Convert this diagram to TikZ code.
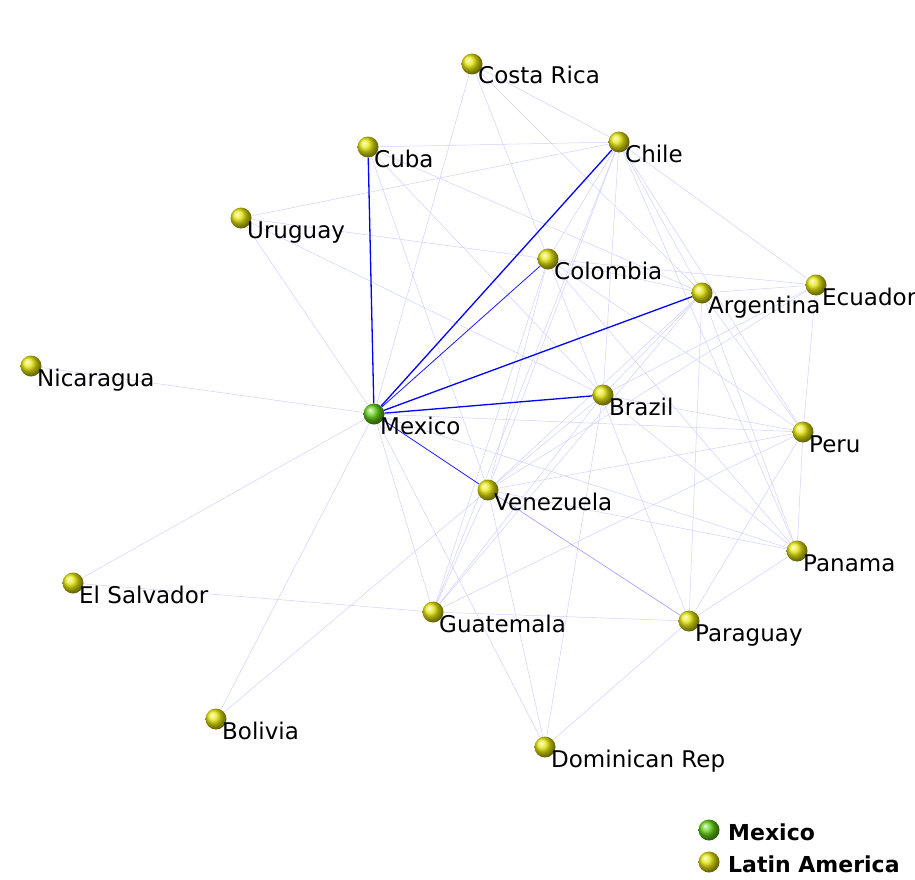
\documentclass[tikz,border=0pt]{standalone}
\usepackage{fontspec}
\setmainfont{DejaVu Sans}
\usetikzlibrary{backgrounds}

\definecolor{limeball}{RGB}{100,210,20}
\definecolor{oliveball}{RGB}{230,230,10}

\tikzset{
  country/.style={circle,inner sep=0pt,minimum size=21pt,shading=ball,ball color=oliveball},
  home/.style={country,ball color=limeball},
  tag/.style={anchor=base west,inner sep=0pt,font=\fontsize{23}{23}\selectfont},
  keytag/.style={tag,font=\fontsize{22}{22}\selectfont\bfseries},
  tie/.style={draw=blue!18,line width=0.5pt},
  firm/.style={draw=blue!40,line width=0.6pt},
  strong/.style={draw=blue,line width=1.3pt},
}

\begin{document}
\begin{tikzpicture}[x=1pt,y=-1pt]
\useasboundingbox (0,0) rectangle (915,880);
% countries
\foreach \n/\x/\y/\t in {cr/472/64/Costa Rica, cu/368/147/Cuba, ch/619/142/Chile,
    ur/241/218/Uruguay, co/548/259/Colombia, ar/702/293/Argentina, ec/816/285/Ecuador,
    ni/31/366/Nicaragua, br/603/395/Brazil, pe/803/432/Peru, ve/488/490/Venezuela,
    pa/797/551/Panama, es/73/583/El Salvador, gu/433/612/Guatemala, py/689/621/Paraguay,
    bo/216/719/Bolivia, dr/545/747/Dominican Rep}
{
  \node[country] (\n) at (\x,\y) {};
  \node[tag] (\n-t) at ([xshift=6pt,yshift=-20pt]\n) {\t};
}
\node[home] (mx) at (374,414) {};
\node[tag] (mx-t) at ([xshift=6pt,yshift=-20pt]mx) {Mexico};

% legend
\node[home] (key-mx) at (709,830) {};
\node[keytag] (key-mx-t) at (728,840) {Mexico};
\node[country] (key-la) at (709,862) {};
\node[keytag] (key-la-t) at (728,872) {Latin America};

\begin{scope}[on background layer]
% weak ties
\foreach \a/\b in {mx/ni, mx/es, mx/bo, mx/ur, mx/cr, mx/gu, mx/dr, mx/pe, mx/pa,
    cu/ch, cu/ar, cu/br, cu/ve, cr/ch, cr/py, cr/ar, ur/ch, ur/co, ur/br,
    ch/ec, ch/ar, ch/br, ch/ve, ch/gu, ch/pe, ch/pa, ch/co,
    co/ar, co/ec, co/ve, co/gu, co/pe, co/pa,
    ar/ec, ar/br, ar/ve, ar/gu, ar/pe, ar/pa, ar/py, ec/pe, ec/br, ec/ve,
    br/pe, br/pa, br/ve, br/gu, br/dr, pe/ve, pe/gu, pe/pa, pe/py,
    ve/pa, ve/gu, ve/dr, ve/bo, pa/py, py/dr, gu/es, gu/py}
  \draw[tie] (\a) -- (\b);
\draw[firm] (ve) -- (py);
% ties of Mexico
\draw[firm,draw=blue!90,line width=0.8pt] (mx) -- (co);
\draw[firm,draw=blue!90,line width=0.8pt] (mx) -- (ve);
\foreach \b in {cu, ch, ar, br}
  \draw[strong] (mx) -- (\b);
\end{scope}
\end{tikzpicture}
\end{document}
